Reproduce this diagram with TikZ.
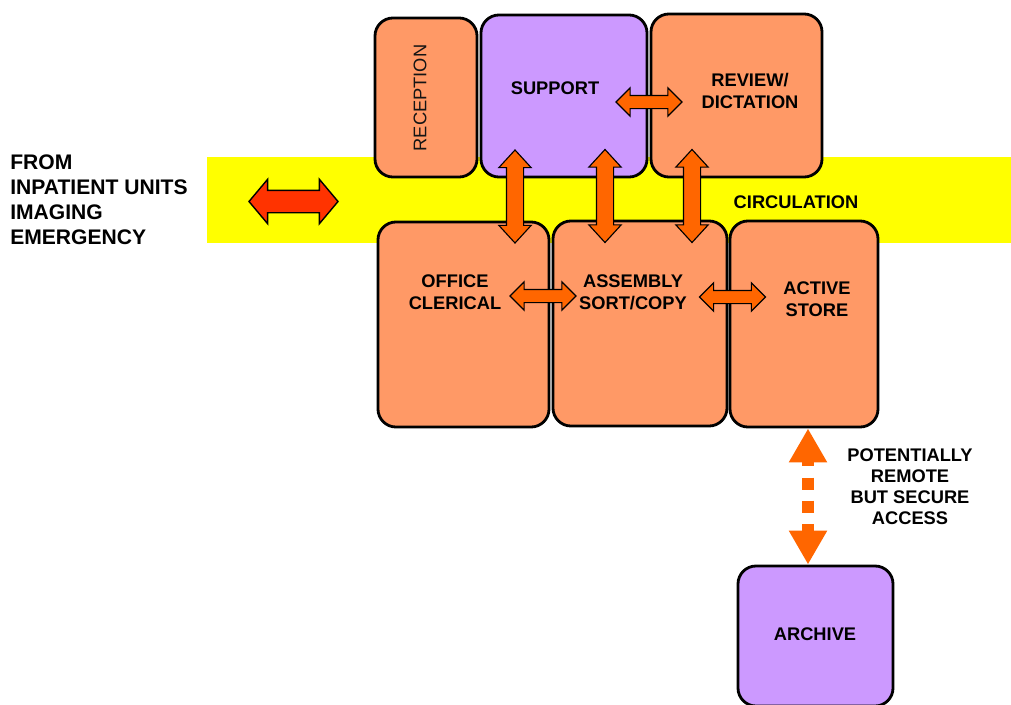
\documentclass[tikz,border=0pt]{standalone}
\usepackage{fontspec}
\setmainfont{Liberation Sans}
\usepackage{tikz}
\usepackage{xcolor}
\usetikzlibrary{shapes.arrows, arrows.meta, positioning, calc}
\definecolor{RoomOrange}{HTML}{FF9966}
\definecolor{RoomLilac}{HTML}{CC99FF}
\definecolor{CircYellow}{HTML}{FFFF00}
\definecolor{LinkOrange}{HTML}{FF6600}
\definecolor{EntryRed}{HTML}{FF3300}
\tikzset{
    % Room styles - rounded corners, heavy outline
    roombox/.style={
        rectangle,
        rounded corners=0.45cm,
        draw=black,
        line width=2pt,
        fill=RoomOrange,
        inner sep=0pt
    },
    securebox/.style={
        roombox,
        fill=RoomLilac
    },
    roomlabel/.style={
        align=center,
        inner sep=0pt,
        font=\fontsize{13pt}{15.6pt}\selectfont\bfseries
    },
    sidelabel/.style={
        align=left,
        inner sep=0pt,
        font=\fontsize{15pt}{17.8pt}\selectfont\bfseries
    },
    % Arrow styles
    linkarrow/.style={
        double arrow,
        draw=black,
        line width=0.8pt,
        fill=LinkOrange,
        inner xsep=0pt,
        inner ysep=0.15cm,
        double arrow head extend=0.19cm,
        double arrow tip angle=90,
        minimum width=0pt,
        minimum height=1.65cm
    },
    uplink/.style={
        linkarrow,
        rotate=90,
        inner ysep=0.2cm,
        double arrow tip angle=85,
        minimum height=2.325cm
    },
    entryarrow/.style={
        linkarrow,
        fill=EntryRed,
        line width=1pt,
        inner ysep=0.2625cm,
        double arrow head extend=0.275cm,
        double arrow tip angle=100,
        minimum height=2.225cm
    },
    accessarrow/.style={
        draw=LinkOrange,
        line width=0.3cm,
        dash pattern=on 0.3cm off 0.28cm,
        dash phase=0.15cm,
        {Triangle[width=0.9cm,length=0.85cm]}-{Triangle[width=0.9cm,length=0.85cm]}
    }
}

\begin{document}
\begin{tikzpicture}[x=0.025cm, y=-0.025cm]
    \useasboundingbox (0,0) rectangle (1011,704);

    % circulation band
    \fill[CircYellow] (207,157) rectangle (1011,243);
    \node[roomlabel] (circ) at (796,202) {CIRCULATION};
    \node[sidelabel, anchor=west] (from) at (10,200) {FROM\\INPATIENT UNITS\\IMAGING\\EMERGENCY};

    % rooms
    \node[roombox, minimum width=2.55cm, minimum height=3.975cm] (rec) at (426,97.5) {};
    \node[securebox, minimum width=4.15cm, minimum height=4.05cm] (sup) at (564,96) {};
    \node[roombox, minimum width=4.275cm, minimum height=4.075cm] (rev) at (736.5,95.5) {};
    \node[roombox, minimum width=4.275cm, minimum height=5.125cm] (off) at (463.5,324.5) {};
    \node[roombox, minimum width=4.35cm, minimum height=5.125cm] (asm) at (640,323.5) {};
    \node[roombox, minimum width=3.7cm, minimum height=5.15cm] (act) at (804,324) {};
    \node[securebox, minimum width=3.875cm, minimum height=3.5cm] (arc) at (815.5,636) {};

    \node[roomlabel, font=\fontsize{13pt}{15.6pt}\selectfont, text=black!92, rotate=90] (rectxt) at (420,98) {RECEPTION};
    \node[roomlabel] (suptxt) at (555,88) {SUPPORT};
    \node[roomlabel] (revtxt) at (750,91) {REVIEW/\\DICTATION};
    \node[roomlabel] (offtxt) at (455,292) {OFFICE\\CLERICAL};
    \node[roomlabel] (asmtxt) at (633,292) {ASSEMBLY\\SORT/COPY};
    \node[roomlabel] (acttxt) at (817,299) {ACTIVE\\STORE};
    \node[roomlabel] (arctxt) at (815,634) {ARCHIVE};

    % links between rooms
    \node[entryarrow] (entry) at (293.5,201.5) {};
    \node[linkarrow] (suprev) at (649,102) {};
    \node[linkarrow] (offasm) at (543,296) {};
    \node[linkarrow] (asmact) at (732.5,297) {};
    \node[uplink] (supoff) at (515,196.5) {};
    \node[uplink] (supasm) at (605,196) {};
    \node[uplink] (revasm) at (692,196) {};

    % remote archive
    \coordinate (acc) at (808,0);
    \draw[accessarrow] (act.south -| acc) -- (arc.north -| acc);
    \node[roomlabel, font=\fontsize{13pt}{15pt}\selectfont\bfseries] (remote) at (910,486.5) {POTENTIALLY\\REMOTE\\BUT SECURE\\ACCESS};
\end{tikzpicture}
\end{document}
